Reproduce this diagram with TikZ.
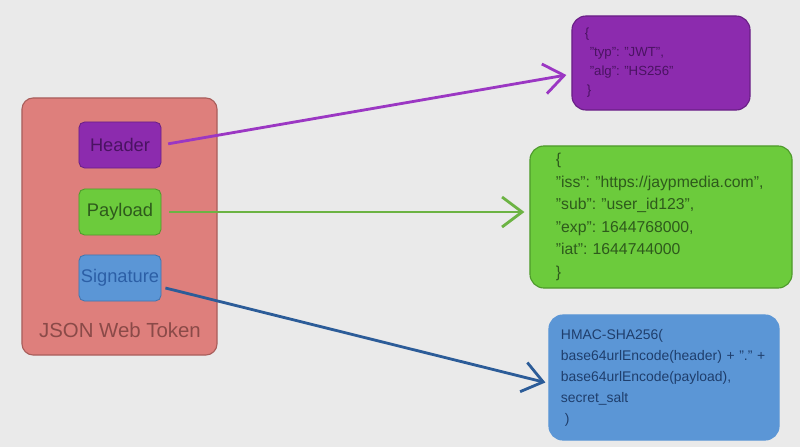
\documentclass[tikz,border=0pt]{standalone}
\usepackage{fontspec}
\setmainfont{Liberation Sans}
\usepackage{tikz}
\usetikzlibrary{arrows.meta,positioning,calc}

\definecolor{bgGray}{HTML}{EAEAEA}
\definecolor{tokFill}{HTML}{DE7F7C}
\definecolor{tokLine}{HTML}{A95E5B}
\definecolor{tokText}{HTML}{8A4A48}
\definecolor{hdrFill}{HTML}{8C2BAE}
\definecolor{hdrLine}{HTML}{6A1F86}
\definecolor{hdrText}{HTML}{4A1362}
\definecolor{payFill}{HTML}{6CCB3C}
\definecolor{payLine}{HTML}{4E9A2B}
\definecolor{payText}{HTML}{2E5A1C}
\definecolor{sigFill}{HTML}{5B96D6}
\definecolor{sigLine}{HTML}{4274AE}
\definecolor{sigText}{HTML}{2C5FA6}
\definecolor{sigDark}{HTML}{1F3E6C}
\definecolor{hdrArrow}{HTML}{9B37C3}
\definecolor{payArrow}{HTML}{6CB343}
\definecolor{sigArrow}{HTML}{2C5C98}

\tikzset{
  part/.style={rectangle, rounded corners=4pt, line width=0.6pt, minimum width=2.05cm, minimum height=1.15cm, inner sep=0pt, font=\fontsize{13}{15}\selectfont},
  claim/.style={rectangle, rounded corners=10pt, line width=0.8pt, align=left},
  link/.style={line width=2pt, -{Straight Barb[length=0.5cm, width=0.75cm]}}
}

\begin{document}
\frenchspacing
\begin{tikzpicture}[x=0.025cm, y=-0.025cm]
		\fill[bgGray] (0,0) rectangle (800,447);
		\useasboundingbox (0,0) rectangle (800,447);
		% token and its three parts
		\node at (119.5,226.5) [rectangle, rounded corners=8pt, fill=tokFill, draw=tokLine, line width=0.8pt, minimum width=4.875cm, minimum height=6.425cm] (jwt) {};
		\node at (120,330) [text=tokText, font=\fontsize{14.5}{17}\selectfont] (jwtlabel) {JSON Web Token};
		\node at (120,145) [part, fill=hdrFill, draw=hdrLine, text=hdrText] (hdr) {Header};
		\node at (120,212) [part, fill=payFill, draw=payLine, text=payText] (pay) {Payload};
		\node at (120,278) [part, fill=sigFill, draw=sigLine, text=sigText] (sig) {Signature};
		% decoded contents
		\node at (661,63) [claim, fill=hdrFill, draw=hdrLine, text=hdrText, minimum width=4.45cm, minimum height=2.35cm, text width=3.8cm, inner xsep=0.325cm, font=\fontsize{9.4}{13.5}\selectfont] (hjson) {\{\\\hspace*{0.12cm}"typ": "JWT",\\\hspace*{0.12cm}"alg": "HS256"\\\hspace*{0.05cm}\}};
		\node at (661,217) [claim, fill=payFill, draw=payLine, text=payText, minimum width=6.55cm, minimum height=3.55cm, text width=5.25cm, inner xsep=0.65cm, font=\fontsize{11.2}{16}\selectfont] (pjson) {\{\\"iss": "https://jaypmedia.com",\\"sub": "user\_id123",\\"exp": 1644768000,\\"iat": 1644744000\\\}};
		\node at (664,377.5) [claim, fill=sigFill, draw=sigFill, text=sigDark, minimum width=5.75cm, minimum height=3.125cm, text width=5.15cm, inner xsep=0.3cm, font=\fontsize{9.9}{14.9}\selectfont] (sjson) {HMAC-SHA256(\\\mbox{base64urlEncode(header) + "." +}\\base64urlEncode(payload),\\secret\_salt\\\hspace*{0.1cm})};
		% connectors
		\draw [link, hdrArrow, shorten <=0.17cm] (hdr.east) -- ($(hjson.west)+(-5,12)$);
		\draw [link, payArrow, shorten <=0.2cm] (pay.east) -- ($(pjson.west |- pay.east)+(-5,0)$);
		\draw [link, sigArrow] ($(sig.east)+(4,10)$) -- ($(sjson.west)+(-3,5)$);
\end{tikzpicture}
\end{document}
